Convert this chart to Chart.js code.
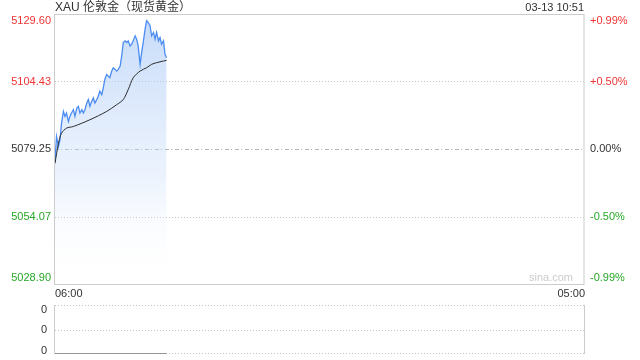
<!DOCTYPE html>
<html>
<head>
<meta charset="utf-8">
<script src="https://cdn.jsdelivr.net/npm/chart.js"></script>
<style>
  html, body { margin: 0; padding: 0; background: #fff; }
  #wrap { position: relative; width: 640px; height: 360px; }
  #main { position: absolute; left: 0; top: 0; }
  #vol { position: absolute; left: 0; top: 300px; }
</style>
</head>
<body>
<div id="wrap">
  <canvas id="main" width="640" height="300"></canvas>
  <canvas id="vol" width="640" height="60"></canvas>
</div>
<script>
// chart data
const titleText = 'XAU 伦敦金（现货黄金）';
const timeText = '03-13 10:51';
const xTickLabels = ['06:00', '05:00'];
const sessionMinutes = 1380; // 06:00 -> 05:00
const prevClose = 5079.25;

// minutes since 06:00
const priceMinutes = [0, 4, 9, 13, 17, 22, 26, 30, 35, 39, 43, 48, 52, 57, 61, 65, 70, 74, 78, 83,
  87, 91, 96, 100, 104, 109, 113, 117, 122, 126, 130, 135, 139, 143, 148, 152, 157, 161, 165, 170,
  174, 178, 183, 187, 191, 196, 200, 204, 209, 213, 217, 222, 226, 230, 235, 239, 243, 248, 252, 257,
  261, 265, 270, 274, 278, 283, 287, 291];
const priceValues = [5074.50, 5083.89, 5080.13, 5082.64, 5088.90, 5093.28, 5091.40, 5092.66, 5089.52, 5091.40,
  5092.66, 5093.91, 5091.40, 5094.53, 5095.16, 5092.66, 5093.91, 5092.66, 5093.91, 5096.41,
  5097.67, 5095.16, 5097.04, 5098.29, 5096.41, 5097.67, 5098.92, 5100.80, 5099.54, 5102.05,
  5105.18, 5107.06, 5106.43, 5105.81, 5108.31, 5109.56, 5108.94, 5108.31, 5108.94, 5110.19,
  5113.95, 5118.96, 5119.58, 5118.96, 5119.58, 5117.70, 5118.33, 5119.58, 5121.46, 5120.21,
  5117.70, 5110.82, 5115.20, 5118.96, 5123.97, 5127.10, 5126.47, 5125.22, 5121.46, 5122.71,
  5120.21, 5122.71, 5119.58, 5120.83, 5118.33, 5119.58, 5114.57, 5113.32];

const avgMinutes = [0, 9, 17, 30, 48, 91, 135, 161, 178, 191, 204, 222, 239, 252, 265, 283, 291];
const avgValues = [5073.87, 5081.38, 5085.14, 5087.02, 5087.65, 5090.15, 5093.28, 5095.79, 5097.67,
  5101.42, 5105.81, 5108.31, 5109.56, 5110.82, 5111.44, 5112.07, 5112.32];

const priceTicks = [5129.60, 5104.43, 5079.25, 5054.07, 5028.90];
const priceTickLabels = ['5129.60', '5104.43', '5079.25', '5054.07', '5028.90'];
const pctTickLabels = ['+0.99%', '+0.50%', '0.00%', '-0.50%', '-0.99%'];

const volumeValues = priceMinutes.map(() => 0);
const volumeTicks = [2, 1, 0];
const volumeTickLabels = ['0', '0', '0'];

const RED = '#f03434';
const GREEN = '#27a827';
const DARK = '#333';
const FONT = '11px "Liberation Sans", Arial, "Noto Sans CJK SC", sans-serif';

function toPoints(xs, ys) {
  return xs.map((x, i) => ({ x: x, y: ys[i] }));
}

function tickColor(v) {
  if (v > prevClose) return RED;
  if (v < prevClose) return GREEN;
  return DARK;
}

function hLine(ctx, a, py, color, dash) {
  ctx.beginPath();
  ctx.strokeStyle = color;
  ctx.lineWidth = 1;
  ctx.setLineDash(dash);
  ctx.moveTo(a.left, py);
  ctx.lineTo(a.right, py);
  ctx.stroke();
  ctx.setLineDash([]);
}

// grid, borders and all the text of the price panel
const mainDecor = {
  id: 'mainDecor',
  beforeDatasetsDraw(chart) {
    const { ctx, chartArea: a, scales: { y } } = chart;
    ctx.save();
    priceTicks.forEach((v, i) => {
      if (i === 0 || i === priceTicks.length - 1) return;
      const py = Math.round(y.getPixelForValue(v)) + 0.5;
      if (v === prevClose) hLine(ctx, a, py, '#b4b4b4', [4, 2, 1, 3]);
      else hLine(ctx, a, py, '#c4c4c4', [1, 2]);
    });
    ctx.restore();
  },
  afterDraw(chart) {
    const { ctx, chartArea: a, scales: { y } } = chart;
    ctx.save();
    ctx.strokeStyle = '#ccc';
    ctx.lineWidth = 1;
    ctx.strokeRect(a.left - 0.5, a.top + 0.5, a.right - a.left + 0.5, a.bottom - a.top);

    ctx.font = FONT;
    ctx.textBaseline = 'middle';
    priceTicks.forEach((v, i) => {
      let py = y.getPixelForValue(v);
      py = Math.min(Math.max(py, a.top + 6.5), a.bottom - 6.5);
      ctx.fillStyle = tickColor(v);
      ctx.textAlign = 'right';
      ctx.fillText(priceTickLabels[i], a.left - 4, py);
      ctx.textAlign = 'left';
      ctx.fillText(pctTickLabels[i], a.right + 6, py);
    });

    ctx.fillStyle = DARK;
    ctx.textAlign = 'left';
    ctx.fillText(xTickLabels[0], a.left, a.bottom + 10);
    ctx.textAlign = 'right';
    ctx.fillText(xTickLabels[1], a.right + 1, a.bottom + 10);

    ctx.fillStyle = '#ccc';
    ctx.fillText('sina.com', a.right - 11, a.bottom - 6);

    ctx.font = '12px "Liberation Sans", Arial, "Noto Sans CJK SC", sans-serif';
    ctx.fillStyle = DARK;
    ctx.textAlign = 'left';
    ctx.fillText(titleText, a.left, 7.5);
    ctx.font = FONT;
    ctx.textAlign = 'right';
    ctx.fillText(timeText, a.right, 7.5);
    ctx.restore();
  }
};

new Chart(document.getElementById('main'), {
  type: 'line',
  data: {
    datasets: [
      {
        label: 'price',
        data: toPoints(priceMinutes, priceValues),
        borderColor: '#4b8cf2',
        borderWidth: 1.3,
        pointRadius: 0,
        tension: 0,
        fill: 'start',
        backgroundColor: (c) => {
          const a = c.chart.chartArea;
          if (!a) return 'rgba(180,205,245,0.5)';
          const g = c.chart.ctx.createLinearGradient(0, a.top, 0, a.bottom);
          g.addColorStop(0, 'rgba(165,198,245,0.65)');
          g.addColorStop(0.6, 'rgba(200,220,250,0.35)');
          g.addColorStop(1, 'rgba(255,255,255,0)');
          return g;
        },
        order: 2
      },
      {
        label: 'avg',
        data: toPoints(avgMinutes, avgValues),
        borderColor: '#2b2b2b',
        borderWidth: 1,
        pointRadius: 0,
        tension: 0.3,
        fill: false,
        order: 1
      }
    ]
  },
  options: {
    responsive: false,
    animation: false,
    layout: { padding: { left: 55, right: 56, top: 14, bottom: 16 } },
    plugins: { legend: { display: false }, tooltip: { enabled: false } },
    scales: {
      x: { type: 'linear', min: 0, max: sessionMinutes, display: false },
      y: { min: priceTicks[priceTicks.length - 1], max: priceTicks[0], display: false }
    }
  },
  plugins: [mainDecor]
});

// volume panel
const volDecor = {
  id: 'volDecor',
  beforeDatasetsDraw(chart) {
    const { ctx, chartArea: a, scales: { y } } = chart;
    ctx.save();
    volumeTicks.forEach((v) => {
      const py = Math.round(y.getPixelForValue(v)) + 0.5;
      hLine(ctx, a, py - (v === 0 ? 1 : 0), '#c4c4c4', [1, 2]);
    });
    ctx.strokeStyle = '#ccc';
    ctx.beginPath();
    ctx.moveTo(a.left - 0.5, a.top);
    ctx.lineTo(a.left - 0.5, a.bottom);
    ctx.moveTo(a.right + 0.5, a.top);
    ctx.lineTo(a.right + 0.5, a.bottom);
    ctx.stroke();
    ctx.restore();
  },
  afterDraw(chart) {
    const { ctx, chartArea: a, scales: { y } } = chart;
    ctx.save();
    ctx.font = FONT;
    ctx.textBaseline = 'middle';
    ctx.textAlign = 'right';
    ctx.fillStyle = DARK;
    volumeTicks.forEach((v, i) => {
      let py = y.getPixelForValue(v);
      py = Math.min(Math.max(py, a.top + 5), a.bottom - 3);
      ctx.fillText(volumeTickLabels[i], a.left - 8, py);
    });
    ctx.restore();
  }
};

new Chart(document.getElementById('vol'), {
  type: 'line',
  data: {
    datasets: [{
      label: 'volume',
      data: toPoints(priceMinutes, volumeValues),
      borderColor: '#777',
      borderWidth: 1.5,
      pointRadius: 0,
      fill: false
    }]
  },
  options: {
    responsive: false,
    animation: false,
    layout: { padding: { left: 55, right: 56, top: 5, bottom: 6 } },
    plugins: { legend: { display: false }, tooltip: { enabled: false } },
    scales: {
      x: { type: 'linear', min: 0, max: sessionMinutes, display: false },
      y: { min: 0, max: 2, display: false }
    }
  },
  plugins: [volDecor]
});
</script>
</body>
</html>
